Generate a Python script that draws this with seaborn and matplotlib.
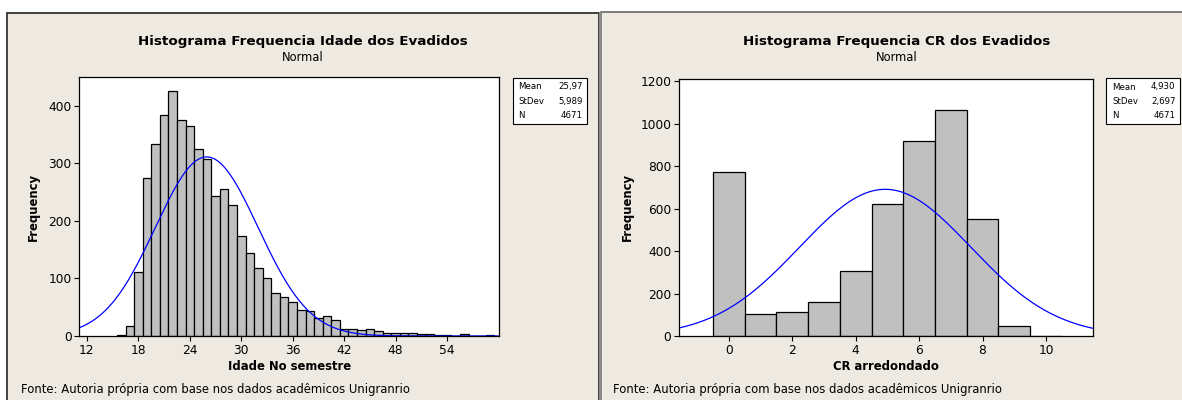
import numpy as np
import pandas as pd
import matplotlib.pyplot as plt
from matplotlib.patches import Rectangle
import seaborn as sns

sns.set_theme(style="ticks")
plt.rcParams.update({
    "font.family": ["DejaVu Sans"],
    "text.color": "black",
    "axes.edgecolor": "black",
    "axes.linewidth": 0.9,
    "xtick.color": "black",
    "ytick.color": "black",
    "xtick.major.size": 3.5,
    "ytick.major.size": 3.5,
    "xtick.major.width": 0.8,
    "ytick.major.width": 0.8,
    "xtick.major.pad": 2,
    "ytick.major.pad": 2,
})

BG = "#EEEAE1"
BAR = "#C0C0C0"
CURVE = "#0000FF"

# idade (age) histogram, one bar per integer age
idade_vals = [16, 17, 18, 19, 20, 21, 22, 23, 24, 25, 26, 27, 28, 29, 30, 31,
              32, 33, 34, 35, 36, 37, 38, 39, 40, 41, 42, 43, 44, 45, 46, 47,
              48, 49, 50, 51, 52, 53, 54, 56, 59]
idade_freq = [2, 17, 112, 275, 333, 384, 425, 375, 364, 325, 307, 244, 255, 227,
              173, 144, 119, 100, 74, 67, 59, 46, 44, 31, 35, 28, 13, 13, 10, 13,
              8, 5, 6, 6, 6, 3, 3, 1, 1, 3, 1]
idade_stats = {"mean": 25.97, "sd": 5.989, "n": 4671}

# CR arredondado histogram
cr_vals = [0, 1, 2, 3, 4, 5, 6, 7, 8, 9, 10]
cr_freq = [771, 104, 111, 160, 307, 620, 920, 1066, 550, 46, 2]
cr_stats = {"mean": 4.930, "sd": 2.697, "n": 4671}

W, H = 1182, 400
fig = plt.figure(figsize=(W / 100, H / 100), dpi=100)
fig.patch.set_facecolor("white")


def px_rect(x0, y0, x1, y1):
    # pixel box (top-left origin) -> figure fraction [l, b, w, h]
    return [x0 / W, 1 - y1 / H, (x1 - x0) / W, (y1 - y0) / H]


def fx(x):
    return x / W


def fy(y):
    return 1 - y / H


# panel backgrounds
fig.patches.append(Rectangle((fx(7), fy(420)), fx(599) - fx(7), fy(13) - fy(420),
                             transform=fig.transFigure, facecolor=BG,
                             edgecolor="#333333", linewidth=1.3, zorder=-10))
fig.patches.append(Rectangle((fx(601), fy(420)), fx(1200) - fx(601), fy(11.5) - fy(420),
                             transform=fig.transFigure, facecolor=BG,
                             edgecolor="#707070", linewidth=1.3, zorder=-10))
fig.patches.append(Rectangle((fx(599), fy(420)), fx(601.5) - fx(599), fy(11.5) - fy(420),
                             transform=fig.transFigure, facecolor="#8A8A8A",
                             edgecolor="none", zorder=-9))


def draw_panel(rect, vals, freq, stats, xlim, ylim, xticks, yticks,
               title, xlabel, cx, box, label_x):
    ax = fig.add_axes(px_rect(*rect))
    ax.set_facecolor("white")
    df = pd.DataFrame({"v": vals, "f": freq})
    sns.histplot(data=df, x="v", weights="f", discrete=True, ax=ax,
                 color=BAR, alpha=1, edgecolor="black", linewidth=0.9)
    xs = np.linspace(xlim[0], xlim[1], 400)
    ys = stats["n"] * np.exp(-0.5 * ((xs - stats["mean"]) / stats["sd"]) ** 2) \
        / (stats["sd"] * np.sqrt(2 * np.pi))
    ax.plot(xs, ys, color=CURVE, linewidth=0.9)
    ax.set_xlim(*xlim)
    ax.set_ylim(*ylim)
    ax.set_xticks(xticks)
    ax.set_yticks(yticks)
    ax.tick_params(labelsize=8.8, colors="black")
    ax.set_xlabel("")
    ax.set_ylabel("")
    for s in ax.spines.values():
        s.set_visible(True)
        s.set_color("black")

    fig.text(fx(cx), fy(41.5), title, ha="center", va="center",
             fontsize=9.7, fontweight="bold")
    fig.text(fx(cx), fy(57.5), "Normal", ha="center", va="center", fontsize=8.3)
    fig.text(fx((rect[0] + rect[2]) / 2), fy(367), xlabel, ha="center",
             va="center", fontsize=8.4, fontweight="bold")
    fig.text(fx(label_x), fy(207), "Frequency", ha="center", va="center",
             rotation=90, fontsize=8.4, fontweight="bold")

    bx0, by0, bx1, by1 = box
    fig.patches.append(Rectangle((fx(bx0), fy(by1)), fx(bx1) - fx(bx0),
                                 fy(by0) - fy(by1), transform=fig.transFigure,
                                 facecolor="white", edgecolor="black",
                                 linewidth=0.8, zorder=1))
    n_txt = str(stats["n"])
    mean_txt = f"{stats['mean']:.2f}" if stats["mean"] > 10 else f"{stats['mean']:.3f}"
    rows = [("Mean", mean_txt.replace(".", ",")),
            ("StDev", f"{stats['sd']:.3f}".replace(".", ",")),
            ("N", n_txt)]
    for i, (k, v) in enumerate(rows):
        y = by0 + 9 + i * 14.5
        fig.text(fx(bx0 + 5.5), fy(y), k, ha="left", va="center", fontsize=6.2)
        fig.text(fx(bx1 - 4.5), fy(y), v, ha="right", va="center", fontsize=6.2)
    return ax


draw_panel((79.2, 77, 499.4, 336), idade_vals, idade_freq, idade_stats,
           (11.1, 60.1), (0, 450), range(12, 55, 6), range(0, 401, 100),
           "Histograma Frequencia Idade dos Evadidos", "Idade No semestre",
           303, (512.7, 77.7, 587, 124.3), 33.7)

draw_panel((679.1, 78.7, 1093.2, 336), cr_vals, cr_freq, cr_stats,
           (-1.57, 11.49), (0, 1212), range(0, 11, 2), range(0, 1201, 200),
           "Histograma Frequencia CR dos Evadidos", "CR arredondado",
           896.5, (1106.4, 78, 1180, 124), 627.7)

fonte = "Fonte: Autoria própria com base nos dados acadêmicos Unigranrio"
fig.text(fx(21), fy(390), fonte, ha="left", va="center", fontsize=8.4)
fig.text(fx(613.4), fy(390), fonte, ha="left", va="center", fontsize=8.4)

fig.savefig("out.png", dpi=100, facecolor=fig.get_facecolor())
